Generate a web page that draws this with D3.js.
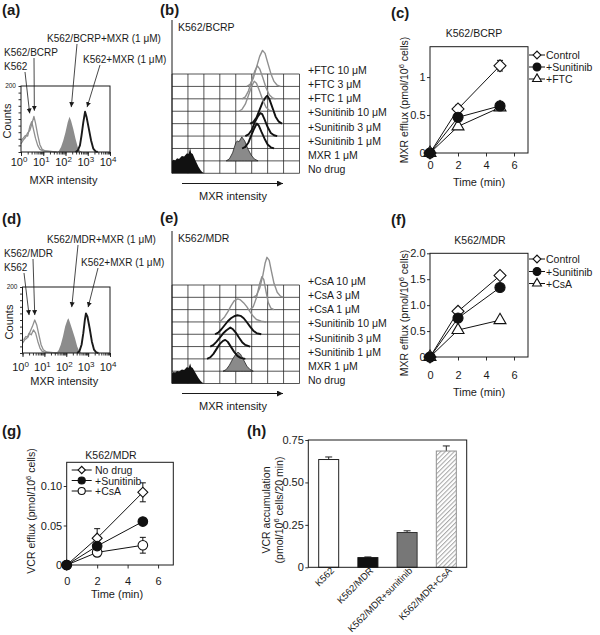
<!DOCTYPE html>
<html><head><meta charset="utf-8">
<script src="https://cdn.jsdelivr.net/npm/d3@7"></script>
<style>
html,body{margin:0;padding:0;background:#fff;}
svg text{font-family:"Liberation Sans",Arial,Helvetica,sans-serif;fill:#1a1a1a;}
</style></head><body>
<svg id="fig" width="600" height="635" xmlns="http://www.w3.org/2000/svg"></svg>
<script>
// ================= DATA =================
// (a) flow histograms: [log10 MXR intensity, counts]
const aNames = ["K562","K562/BCRP","K562/BCRP+MXR (1 μM)","K562+MXR (1 μM)"];
const aK562 = [[0,35],[0.1,42],[0.2,50],[0.3,48],[0.4,78],[0.48,92],[0.55,72],[0.65,42],[0.75,20],[0.85,8],[1.0,3],[1.3,2],[1.6,0]];
const aK562BCRP = [[0,25],[0.1,36],[0.2,44],[0.3,58],[0.4,66],[0.5,88],[0.58,108],[0.65,88],[0.75,52],[0.85,22],[0.95,8],[1.1,3],[1.4,1],[1.6,0]];
const aBCRPMXR = [[1.6,0],[1.7,3],[1.8,15],[1.9,35],[2.0,60],[2.1,90],[2.18,107],[2.25,95],[2.35,70],[2.45,40],[2.55,15],[2.65,4],[2.75,0]];
const aK562MXR = [[2.45,0],[2.55,4],[2.65,20],[2.72,50],[2.8,90],[2.88,122],[2.95,105],[3.05,70],[3.15,35],[3.25,10],[3.35,2],[3.45,0]];
const aArrowTips = [[0.39,117],[0.6,125],[2.26,136],[2.97,136]];

// (d) flow histograms
const dNames = ["K562","K562/MDR","K562/MDR+MXR (1 μM)","K562+MXR (1 μM)"];
const dK562 = [[0,30],[0.1,40],[0.2,45],[0.3,60],[0.4,55],[0.5,70],[0.6,60],[0.7,35],[0.8,15],[0.9,5],[1.05,2],[1.4,1],[1.6,0]];
const dK562MDR = [[0.05,40],[0.15,50],[0.25,48],[0.35,65],[0.45,80],[0.56,100],[0.65,85],[0.75,55],[0.85,25],[0.95,10],[1.1,3],[1.4,1],[1.6,0]];
const dMDRMXR = [[1.55,0],[1.65,8],[1.75,25],[1.85,50],[1.95,80],[2.05,100],[2.1,105],[2.18,90],[2.28,70],[2.4,45],[2.5,20],[2.6,5],[2.7,0]];
const dK562MXR = [[2.5,0],[2.6,5],[2.7,25],[2.78,60],[2.85,100],[2.9,120],[2.97,110],[3.07,75],[3.17,35],[3.27,10],[3.37,2],[3.47,0]];
const dArrowTips = [[0.3,115],[0.56,115],[2.25,139],[3.0,139]];

// (b) stacked histograms, bottom row first
const bRows = ["No drug","MXR 1 μM","+Sunitinib 1 μM","+Sunitinib 3 μM","+Sunitinib 10 μM","+FTC 1 μM","+FTC 3 μM","+FTC 10 μM"];
const bNoDrug = [[0,0],[0,60],[0.05,68],[0.1,64],[0.16,75],[0.22,72],[0.31,87],[0.38,84],[0.47,100],[0.52,96],[0.57,125],[0.6,102],[0.65,97],[0.73,67],[0.83,33],[0.9,15],[0.94,8],[1.0,0]];
const bMXR = [[1.7,0],[1.8,10],[1.9,40],[2.0,90],[2.05,100],[2.1,95],[2.19,120],[2.28,100],[2.38,60],[2.48,30],[2.58,10],[2.7,0]];
const bSun1 = [[2.2,0],[2.3,8],[2.4,30],[2.5,70],[2.58,100],[2.66,125],[2.72,115],[2.8,85],[2.9,50],[3.0,20],[3.1,6],[3.2,0]];
const bSun3 = [[2.3,0],[2.4,8],[2.5,30],[2.6,70],[2.7,100],[2.77,115],[2.83,110],[2.9,85],[3.0,45],[3.1,15],[3.2,4],[3.3,0]];
const bSun10 = [[2.45,0],[2.55,8],[2.65,30],[2.75,70],[2.85,110],[2.93,130],[2.99,140],[3.05,125],[3.15,80],[3.25,35],[3.35,10],[3.45,0]];
const bFTC1 = [[2.1,0],[2.2,10],[2.3,35],[2.4,80],[2.5,125],[2.58,150],[2.65,140],[2.75,100],[2.85,55],[2.95,20],[3.05,5],[3.15,0]];
const bFTC3 = [[2.2,0],[2.3,10],[2.4,40],[2.5,90],[2.6,140],[2.68,165],[2.75,150],[2.85,105],[2.95,55],[3.05,20],[3.15,5],[3.25,0]];
const bFTC10 = [[2.35,0],[2.45,10],[2.55,40],[2.65,95],[2.75,150],[2.84,180],[2.92,165],[3.0,120],[3.1,65],[3.2,25],[3.3,6],[3.4,0]];

// (e) stacked histograms, bottom row first
const eRows = ["No drug","MXR 1 μM","+Sunitinib 1 μM","+Sunitinib 3 μM","+Sunitinib 10 μM","+CsA 1 μM","+CsA 3 μM","+CsA 10 μM"];
const eNoDrug = [[0,0],[0,50],[0.05,58],[0.1,55],[0.16,62],[0.22,60],[0.31,70],[0.38,68],[0.47,82],[0.52,78],[0.57,100],[0.6,82],[0.65,78],[0.73,55],[0.83,28],[0.9,12],[0.94,6],[1.0,0]];
const eMXR = [[1.6,0],[1.7,8],[1.8,30],[1.9,60],[2.0,85],[2.07,95],[2.15,85],[2.25,55],[2.35,25],[2.45,8],[2.55,0]];
const eSun1 = [[1.1,0],[1.2,8],[1.3,25],[1.4,50],[1.5,75],[1.6,90],[1.67,95],[1.75,85],[1.85,60],[1.95,35],[2.05,15],[2.15,5],[2.3,0]];
const eSun3 = [[1.2,0],[1.3,8],[1.4,25],[1.5,45],[1.6,65],[1.7,80],[1.83,95],[1.9,88],[2.0,70],[2.1,45],[2.2,22],[2.3,8],[2.45,0]];
const eSun10 = [[1.35,0],[1.45,8],[1.55,25],[1.65,45],[1.75,65],[1.85,80],[1.95,90],[2.05,95],[2.15,92],[2.25,80],[2.35,60],[2.45,38],[2.55,18],[2.65,6],[2.8,0]];
const eCsA1 = [[1.45,0],[1.55,8],[1.65,25],[1.75,50],[1.85,80],[1.95,105],[2.06,115],[2.15,110],[2.25,95],[2.35,75],[2.45,50],[2.55,28],[2.65,12],[2.8,4],[2.95,0]];
const eCsA3 = [[2.45,0],[2.55,15],[2.65,60],[2.75,130],[2.82,165],[2.88,150],[2.95,90],[3.02,35],[3.1,8],[3.2,0]];
const eCsA10 = [[2.55,0],[2.65,10],[2.75,45],[2.85,110],[2.92,170],[2.98,200],[3.05,185],[3.12,130],[3.2,70],[3.3,25],[3.4,6],[3.5,0]];

// (c) MXR efflux, K562/BCRP
const timeMin = [0,2,5];
const cControl = [0,0.58,1.15], cControlErr = [0,0.05,0.07];
const cSunitinib = [0,0.47,0.62], cSunitinibErr = [0,0.04,0.04];
const cFTC = [0,0.35,0.60], cFTCErr = [0,0.03,0.03];
// (f) MXR efflux, K562/MDR
const fControl = [0,0.88,1.57], fControlErr = [0,0.03,0.05];
const fSunitinib = [0,0.75,1.34], fSunitinibErr = [0,0.05,0.06];
const fCsA = [0,0.52,0.71], fCsAErr = [0,0.03,0.04];
// (g) VCR efflux, K562/MDR
const gNoDrug = [0,0.034,0.092], gNoDrugErr = [0,0.012,0.012];
const gSunitinib = [0,0.024,0.055], gSunitinibErr = [0,0.003,0.003];
const gCsA = [0,0.016,0.025], gCsAErr = [0,0.005,0.010];
const timeTicks = [0,2,4,6];
// (h) VCR accumulation
const hCategories = ["K562","K562/MDR","K562/MDR+sunitinib","K562/MDR+CsA"];
const hValues = [0.635,0.057,0.205,0.685];
const hErrors = [0.015,0.004,0.01,0.03];
const hTicks = [0,0.25,0.5,0.75];

// ================= DRAWING =================
const svg = d3.select("#fig");
const INK = "#1a1a1a";
const defs = svg.append("defs");
defs.append("marker").attr("id","ah").attr("viewBox","0 0 10 10").attr("refX",10).attr("refY",5)
  .attr("markerUnits","userSpaceOnUse").attr("markerWidth",5).attr("markerHeight",6).attr("orient","auto")
  .append("path").attr("d","M0,0L10,5L0,10Z").attr("fill",INK);
defs.append("marker").attr("id","ah2").attr("viewBox","0 0 10 10").attr("refX",10).attr("refY",5)
  .attr("markerUnits","userSpaceOnUse").attr("markerWidth",7).attr("markerHeight",6).attr("orient","auto")
  .append("path").attr("d","M0,0L10,5L0,10Z").attr("fill",INK);
const pat = defs.append("pattern").attr("id","hatch").attr("patternUnits","userSpaceOnUse")
  .attr("width",3.2).attr("height",3.2).attr("patternTransform","rotate(45)");
pat.append("rect").attr("width",3.2).attr("height",3.2).attr("fill","#fff");
pat.append("line").attr("x1",0.5).attr("x2",0.5).attr("y1",0).attr("y2",3.2).attr("stroke","#a8a8a8").attr("stroke-width",1.1);

function plabel(t,x,y){ svg.append("text").attr("x",x).attr("y",y).attr("font-size",15).attr("font-weight","bold").text(t); }
function styleAxis(s,fs){ s.attr("font-size",fs).attr("font-family",null); s.select(".domain").remove(); s.selectAll(".tick line").attr("stroke",INK).attr("stroke-width",0.9); s.selectAll(".tick text").attr("fill",INK); }

// ---------- flow histogram panels (a) & (d) ----------
function drawFlow(c){
  const g = svg.append("g");
  const x = d3.scaleLinear().domain([0,4]).range([c.l,c.r]);
  const xl = d3.scaleLog().domain([1,1e4]).range([c.l,c.r]);
  const y = d3.scaleLinear().domain([0,200]).range([c.b,c.t]);
  c.curves.forEach(cv=>{
    if(cv.fill){
      g.append("path").datum(cv.data).attr("d",d3.area().x(d=>x(d[0])).y0(c.b).y1(d=>y(d[1])))
        .attr("fill",cv.fill);
    } else {
      g.append("path").datum(cv.data).attr("d",d3.line().x(d=>x(d[0])).y(d=>y(d[1])))
        .attr("fill","none").attr("stroke",cv.stroke).attr("stroke-width",cv.sw).attr("stroke-linejoin","round");
    }
  });
  g.append("rect").attr("x",c.l).attr("y",c.t).attr("width",c.r-c.l).attr("height",c.b-c.t)
    .attr("fill","none").attr("stroke",INK).attr("stroke-width",1);
  g.append("g").attr("transform",`translate(0,${c.b})`)
    .call(d3.axisBottom(xl).tickValues(xl.ticks()).tickSize(2.5).tickFormat(""))
    .call(s=>styleAxis(s,10));
  g.append("g").attr("transform",`translate(0,${c.b})`)
    .call(d3.axisBottom(xl).tickValues([1,10,100,1000,10000]).tickSize(4).tickFormat(""))
    .call(s=>styleAxis(s,10));
  g.append("g").attr("transform",`translate(${c.l},0)`)
    .call(d3.axisLeft(y).tickValues(d3.range(0,201,20)).tickSize(2.5).tickFormat(""))
    .call(s=>styleAxis(s,10));
  g.append("text").attr("x",c.l-5).attr("y",y(200)+2).attr("text-anchor","end").attr("font-size",6.5).text("200");
  [0,1,2,3,4].forEach(k=>{
    const t = g.append("text").attr("x",x(k)-2).attr("y",c.b+c.tickOff).attr("text-anchor","middle").attr("font-size",11).text("10");
    t.append("tspan").attr("dy",-4.5).attr("font-size",8).text(k);
  });
  g.append("text").attr("x",(c.l+c.r)/2-2).attr("y",c.b+c.xlabOff).attr("text-anchor","middle").attr("font-size",11).text("MXR intensity");
  g.append("text").attr("transform",`translate(${c.l-10},${(c.t+c.b)/2+2}) rotate(-90)`).attr("text-anchor","middle").attr("font-size",11).text("Counts");
  // annotations
  c.names.forEach((n,i)=>{
    const a = c.ann[i];
    g.append("text").attr("x",a.tx).attr("y",a.ty).attr("font-size",10).text(n);
    const tip = c.tips[i];
    g.append("line").attr("x1",a.sx).attr("y1",a.sy).attr("x2",x(tip[0])).attr("y2",y(tip[1]))
      .attr("stroke",INK).attr("stroke-width",0.8).attr("marker-end","url(#ah)");
  });
}

drawFlow({l:21,r:110,t:86,b:152,tickOff:14,xlabOff:32,
  names:aNames, tips:aArrowTips,
  ann:[{tx:4,ty:70,sx:25,sy:72},{tx:4,ty:56,sx:34,sy:58},{tx:47,ty:42,sx:77,sy:44},{tx:83,ty:63,sx:100,sy:65}],
  curves:[{data:aBCRPMXR,fill:"#8c8c8c"},{data:aK562,stroke:"#8f8f8f",sw:1.3},{data:aK562BCRP,stroke:"#8f8f8f",sw:1.3},{data:aK562MXR,stroke:INK,sw:1.9}]});
drawFlow({l:22.5,r:110,t:287,b:353,tickOff:18,xlabOff:32,
  names:dNames, tips:dArrowTips,
  ann:[{tx:4,ty:271,sx:24,sy:273},{tx:4,ty:257,sx:33,sy:259},{tx:47,ty:243,sx:78,sy:245},{tx:81,ty:266,sx:98,sy:268}],
  curves:[{data:dMDRMXR,fill:"#8c8c8c"},{data:dK562,stroke:"#8f8f8f",sw:1.3},{data:dK562MDR,stroke:"#8f8f8f",sw:1.3},{data:dK562MXR,stroke:INK,sw:1.9}]});

// ---------- stacked histogram panels (b) & (e) ----------
function drawWaterfall(c){
  const g = svg.append("g");
  const x = d3.scaleLinear().domain([0,4]).range([c.l,c.r]);
  const row = d3.scaleLinear().domain([0,8]).range([c.b,c.t]);
  const h = d3.scaleLinear().domain([0,200]).range([0,40]);
  const lab = d3.scaleLinear().domain([0,7]).range([c.labB,c.labT]);
  g.selectAll("line.hl").data(d3.range(0,9)).join("line").attr("class","hl")
    .attr("x1",c.l).attr("x2",c.r).attr("y1",d=>row(d)).attr("y2",d=>row(d)).attr("stroke","#2a2a2a").attr("stroke-width",0.8);
  g.selectAll("line.vl").data(d3.range(0,8.5,1)).join("line").attr("class","vl")
    .attr("x1",d=>x(d/2)).attr("x2",d=>x(d/2)).attr("y1",c.t).attr("y2",c.b).attr("stroke","#2a2a2a").attr("stroke-width",0.8);
  g.append("line").attr("x1",c.l).attr("x2",c.l).attr("y1",c.axisTop).attr("y2",c.b).attr("stroke",INK).attr("stroke-width",1);
  c.curves.forEach((cv,i)=>{
    const base = row(i);
    if(cv.type==="fillBlack" || cv.type==="fillGray"){
      g.append("path").datum(cv.data).attr("d",d3.area().x(d=>x(d[0])).y0(base).y1(d=>base-h(d[1])))
        .attr("fill",cv.type==="fillBlack"?"#111":"#8a8a8a")
        .attr("stroke",cv.type==="fillBlack"?"none":"#222").attr("stroke-width",0.8);
    } else {
      g.append("path").datum(cv.data).attr("d",d3.line().x(d=>x(d[0])).y(d=>base-h(d[1])))
        .attr("fill","none").attr("stroke",cv.type==="gray"?"#8f8f8f":"#111")
        .attr("stroke-width",cv.type==="gray"?1.4:1.9).attr("stroke-linejoin","round");
    }
  });
  c.rows.forEach((n,i)=> g.append("text").attr("x",c.labX).attr("y",lab(i)+4).attr("font-size",10.5).text(n));
  g.append("text").attr("x",c.l+6).attr("y",c.titleY).attr("font-size",10.5).text(c.title);
  g.append("line").attr("x1",c.l+10).attr("x2",c.l+111).attr("y1",c.arrowY).attr("y2",c.arrowY)
    .attr("stroke",INK).attr("stroke-width",1).attr("marker-end","url(#ah2)");
  g.append("text").attr("x",c.l+61).attr("y",c.arrowY+16).attr("text-anchor","middle").attr("font-size",11).text("MXR intensity");
}
const wfTypes = ["fillBlack","fillGray","black","black","black","gray","gray","gray"];
drawWaterfall({l:172,r:299.5,t:74,b:173.3,axisTop:20,labX:308,labB:169,labT:70,title:"K562/BCRP",titleY:31,arrowY:183.5,
  rows:bRows, curves:[bNoDrug,bMXR,bSun1,bSun3,bSun10,bFTC1,bFTC3,bFTC10].map((d,i)=>({data:d,type:wfTypes[i]}))});
drawWaterfall({l:172,r:299.5,t:285,b:383.5,axisTop:231,labX:308,labB:380,labT:281,title:"K562/MDR",titleY:242,arrowY:393.5,
  rows:eRows, curves:[eNoDrug,eMXR,eSun1,eSun3,eSun10,eCsA1,eCsA3,eCsA10].map((d,i)=>({data:d,type:wfTypes[i]}))});

// ---------- line charts (c), (f), (g) ----------
function symPath(type,size){
  if(type==="diamond") return d3.symbol(d3.symbolSquare,size)();
  if(type==="triangle") return d3.symbol(d3.symbolTriangle,size)();
  return d3.symbol(d3.symbolCircle,size)();
}
function marker(g,type,filled,size,px,py){
  g.append("path").attr("d",symPath(type,size))
    .attr("transform",`translate(${px},${py})`+(type==="diamond"?" rotate(45)":""))
    .attr("fill",filled?"#111":"#fff").attr("stroke","#111").attr("stroke-width",1.1);
}
function drawLine(c){
  const g = svg.append("g");
  const x = d3.scaleLinear().domain([0,7]).range([c.l,c.r]);
  const y = d3.scaleLinear().domain(c.yd).range([c.b,c.t]);
  g.append("rect").attr("x",c.l).attr("y",c.t).attr("width",c.r-c.l).attr("height",c.b-c.t)
    .attr("fill","none").attr("stroke",INK).attr("stroke-width",1);
  g.append("g").attr("transform",`translate(0,${c.b})`)
    .call(d3.axisBottom(x).tickValues(timeTicks).tickSize(3.5).tickPadding(c.xpad).tickFormat(d3.format("d")))
    .call(s=>styleAxis(s,11));
  g.append("g").attr("transform",`translate(${c.l},0)`)
    .call(d3.axisLeft(y).tickValues(c.yt).tickSize(3).tickPadding(1.5).tickFormat(c.yf))
    .call(s=>styleAxis(s,11));
  const line = d3.line().x((d,i)=>x(timeMin[i])).y(d=>y(d));
  c.series.forEach(s=> g.append("path").datum(s.v).attr("d",line).attr("fill","none").attr("stroke","#111").attr("stroke-width",1));
  c.series.forEach(s=> s.v.forEach((v,i)=>{
    if(!s.e[i]) return;
    const xx = x(timeMin[i]);
    g.append("line").attr("x1",xx).attr("x2",xx).attr("y1",y(v-s.e[i])).attr("y2",y(v+s.e[i])).attr("stroke","#111").attr("stroke-width",1);
    [v-s.e[i],v+s.e[i]].forEach(w=> g.append("line").attr("x1",xx-3).attr("x2",xx+3).attr("y1",y(w)).attr("y2",y(w)).attr("stroke","#111").attr("stroke-width",1));
  }));
  c.series.forEach(s=> s.v.forEach((v,i)=> marker(g,s.type,s.filled,s.size,x(timeMin[i]),y(v))));
  // legend
  c.series.slice().sort((a,b)=>a.order-b.order).forEach((s,i)=>{
    const ly = c.leg.y[i];
    g.append("line").attr("x1",c.leg.x0).attr("x2",c.leg.x1).attr("y1",ly).attr("y2",ly).attr("stroke","#111").attr("stroke-width",1);
    marker(g,s.type,s.filled,s.lsize,(c.leg.x0+c.leg.x1)/2,ly);
    g.append("text").attr("x",c.leg.tx).attr("y",ly+4).attr("font-size",c.leg.fs).text(s.name);
  });
  g.append("text").attr("x",c.titleX).attr("y",c.titleY).attr("text-anchor","middle").attr("font-size",10.5).text(c.title);
  g.append("text").attr("x",c.xlabX).attr("y",c.xlabY).attr("text-anchor","middle").attr("font-size",11).text("Time (min)");
  const yl = g.append("text").attr("transform",`translate(${c.ylabX},${c.ylabY}) rotate(-90)`).attr("text-anchor","middle").attr("font-size",10.5).text(c.ylab);
  yl.append("tspan").attr("dy",-4).attr("font-size",7.5).text("6");
  yl.append("tspan").attr("dy",4).text(" cells)");
}
drawLine({l:430,r:528,t:46.7,b:153,yd:[0,1.4],yt:[0,0.5,1],yf:d3.format("~g"),xpad:4.5,
  title:"K562/BCRP",titleX:474,titleY:37,xlabX:479,xlabY:186,ylabX:408,ylabY:100,ylab:"MXR efflux (pmol/10",
  leg:{x0:529,x1:545,tx:546,y:[55,67,79],fs:10.5},
  series:[
    {name:"Control",v:cControl,e:cControlErr,type:"diamond",filled:false,size:72,lsize:30,order:0},
    {name:"+FTC",v:cFTC,e:cFTCErr,type:"triangle",filled:false,size:62,lsize:34,order:2},
    {name:"+Sunitinib",v:cSunitinib,e:cSunitinibErr,type:"circle",filled:true,size:80,lsize:48,order:1}]});
drawLine({l:430,r:528,t:253.3,b:357,yd:[0,2],yt:[0,0.5,1,1.5,2],yf:d=>d===0?"0":d3.format(".1f")(d),xpad:10.5,
  title:"K562/MDR",titleX:480,titleY:244,xlabX:479,xlabY:395.5,ylabX:408,ylabY:313,ylab:"MXR efflux (pmol/10",
  leg:{x0:529,x1:545,tx:546,y:[259,271.5,283.5],fs:10.5},
  series:[
    {name:"Control",v:fControl,e:fControlErr,type:"diamond",filled:false,size:72,lsize:30,order:0},
    {name:"+CsA",v:fCsA,e:fCsAErr,type:"triangle",filled:false,size:62,lsize:34,order:2},
    {name:"+Sunitinib",v:fSunitinib,e:fSunitinibErr,type:"circle",filled:true,size:80,lsize:48,order:1}]});
drawLine({l:66.7,r:173.3,t:462.3,b:565,yd:[0,0.13],yt:[0,0.05,0.1],yf:d=>d===0?"0":d3.format(".2f")(d),xpad:8.5,
  title:"K562/MDR",titleX:111,titleY:459,xlabX:117,xlabY:598,ylabX:35,ylabY:511,ylab:"VCR efflux (pmol/10",
  leg:{x0:71.7,x1:91.7,tx:95,y:[470,480.5,491],fs:10.5},
  series:[
    {name:"No drug",v:gNoDrug,e:gNoDrugErr,type:"diamond",filled:false,size:50,lsize:26,order:0},
    {name:"+CsA",v:gCsA,e:gCsAErr,type:"circle",filled:false,size:72,lsize:40,order:2},
    {name:"+Sunitinib",v:gSunitinib,e:gSunitinibErr,type:"circle",filled:true,size:72,lsize:40,order:1}]});

// ---------- bar chart (h) ----------
(function(){
  const l=308.3, r=466.7, t=440, b=567.3;
  const g = svg.append("g");
  const x = d3.scaleBand().domain(hCategories).range([l,r]).paddingInner(0.49).paddingOuter(0.265);
  const y = d3.scaleLinear().domain([0,0.75]).range([b,t]);
  const fills = ["#fff","#111","#777","url(#hatch)"];
  const strokes = ["#222","#111","#333","#909090"];
  hCategories.forEach((cat,i)=>{
    const cx = x(cat)+x.bandwidth()/2;
    const top = y(hValues[i]+hErrors[i]);
    g.append("line").attr("x1",cx).attr("x2",cx).attr("y1",y(hValues[i])).attr("y2",top).attr("stroke","#222").attr("stroke-width",1);
    g.append("line").attr("x1",cx-3.5).attr("x2",cx+3.5).attr("y1",top).attr("y2",top).attr("stroke","#222").attr("stroke-width",1);
    g.append("rect").attr("x",x(cat)).attr("y",y(hValues[i])).attr("width",x.bandwidth()).attr("height",b-y(hValues[i]))
      .attr("fill",fills[i]).attr("stroke",strokes[i]).attr("stroke-width",1);
    g.append("text").attr("transform",`translate(${cx+6},${b+4}) rotate(-45)`).attr("text-anchor","end").attr("font-size",9.5).text(cat);
  });
  g.append("rect").attr("x",l).attr("y",t).attr("width",r-l).attr("height",b-t).attr("fill","none").attr("stroke",INK).attr("stroke-width",1);
  g.append("g").attr("transform",`translate(${l},0)`)
    .call(d3.axisLeft(y).tickValues(hTicks).tickSize(3).tickPadding(1.5).tickFormat(d=>d===0?"0":d3.format(".2f")(d)))
    .call(s=>styleAxis(s,11));
  g.append("text").attr("transform",`translate(270,510) rotate(-90)`).attr("text-anchor","middle").attr("font-size",10.5).text("VCR accumulation");
  const t2 = g.append("text").attr("transform",`translate(283,510) rotate(-90)`).attr("text-anchor","middle").attr("font-size",10.5).text("(pmol/10");
  t2.append("tspan").attr("dy",-4).attr("font-size",7.5).text("6");
  t2.append("tspan").attr("dy",4).text(" cells/20 min)");
})();

plabel("(a)",2,15); plabel("(b)",160,15); plabel("(c)",391,18);
plabel("(d)",2,224); plabel("(e)",160,223); plabel("(f)",391,225);
plabel("(g)",2,436); plabel("(h)",247,436);
</script></body></html>
